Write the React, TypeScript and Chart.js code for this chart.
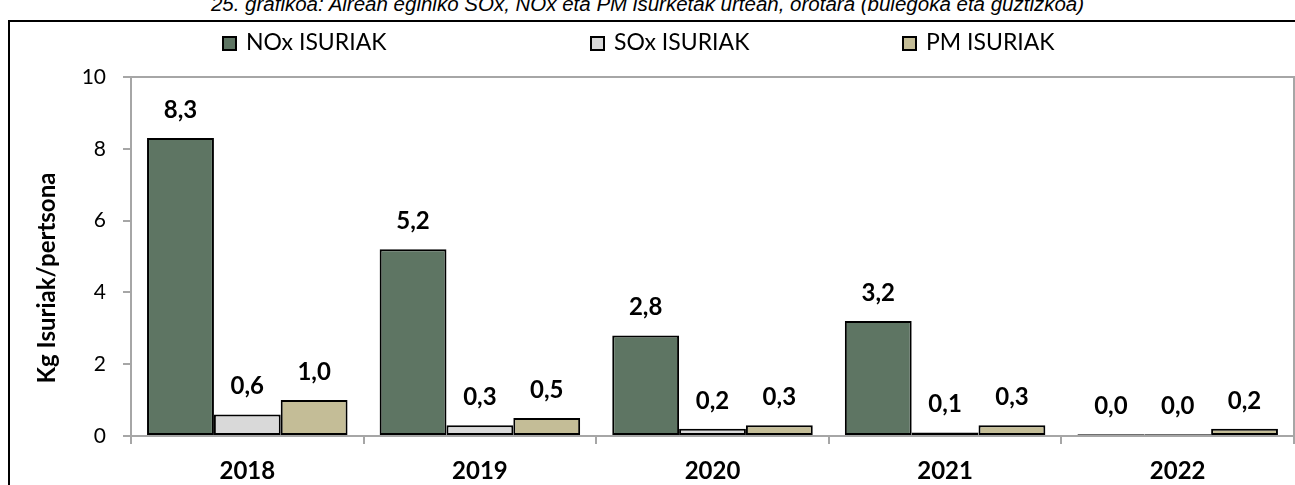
import React, { useEffect, useRef } from 'react';
import { Chart, registerables } from 'chart.js';

Chart.register(...registerables);

const chartTitle = '25. grafikoa: Airean eginiko SOx, NOx eta PM isurketak urtean, orotara (bulegoka eta guztizkoa)';
const categories = ['2018', '2019', '2020', '2021', '2022'];
const seriesLabels = ['NOx ISURIAK', 'SOx ISURIAK', 'PM ISURIAK'];
const noxValues = [8.3, 5.2, 2.8, 3.2, 0.049];
const soxValues = [0.6, 0.3, 0.2, 0.1, 0.049];
const pmValues = [1.0, 0.5, 0.3, 0.3, 0.2];
const seriesColors = ['#5E7563', '#D9D9D9', '#C4BD97'];
const yTickMin = 0;
const yTickMax = 10;
const yTickStep = 2;
const yAxisTitle = 'Kg Isuriak/pertsona';

const FONT = 'Lato, "Open Sans", sans-serif';

const fmt = (v: number) => v.toFixed(1).replace('.', ',');

const legendPlugin = {
  id: 'customLegend',
  afterDraw(chart: any) {
    const ctx = chart.ctx;
    const xs = [222, 590, 902];
    chart.data.datasets.forEach((ds: any, i: number) => {
      const x = xs[i];
      const y = 36;
      ctx.save();
      ctx.fillStyle = ds.backgroundColor;
      ctx.fillRect(x, y, 15, 15);
      ctx.lineWidth = 2;
      ctx.strokeStyle = '#000';
      ctx.strokeRect(x + 1, y + 1, 13, 13);
      ctx.font = `23px ${FONT}`;
      ctx.fillStyle = '#000';
      ctx.textBaseline = 'middle';
      ctx.textAlign = 'left';
      ctx.fillText(ds.label, x + 24, y + 7);
      ctx.restore();
    });
  },
};

const yTitlePlugin = {
  id: 'yTitle',
  afterDraw(chart: any) {
    const ctx = chart.ctx;
    ctx.save();
    ctx.translate(47, 278);
    ctx.rotate(-Math.PI / 2);
    ctx.font = `bold 24px ${FONT}`;
    ctx.fillStyle = '#000';
    ctx.textAlign = 'center';
    ctx.textBaseline = 'middle';
    ctx.fillText(yAxisTitle, 0, 0);
    ctx.restore();
  },
};

const plotBorderPlugin = {
  id: 'plotBorder',
  beforeDatasetsDraw(chart: any) {
    const { ctx, chartArea } = chart;
    ctx.save();
    ctx.strokeStyle = '#A6A6A6';
    ctx.lineWidth = 2;
    ctx.beginPath();
    ctx.moveTo(chartArea.left, chartArea.top);
    ctx.lineTo(chartArea.right, chartArea.top);
    ctx.lineTo(chartArea.right, chartArea.bottom);
    ctx.stroke();
    ctx.restore();
  },
};

const dataLabelPlugin = {
  id: 'dataLabels',
  afterDatasetsDraw(chart: any) {
    const ctx = chart.ctx;
    ctx.save();
    ctx.font = `bold 24px ${FONT}`;
    ctx.fillStyle = '#000';
    ctx.textAlign = 'center';
    ctx.textBaseline = 'middle';
    chart.data.datasets.forEach((ds: any, i: number) => {
      const meta = chart.getDatasetMeta(i);
      meta.data.forEach((bar: any, j: number) => {
        ctx.fillText(fmt(ds.data[j]), bar.x, bar.y - 28);
      });
    });
    ctx.restore();
  },
};

export default function App() {
  const canvasRef = useRef<HTMLCanvasElement | null>(null);

  useEffect(() => {
    if (!canvasRef.current) return;
    const values = [noxValues, soxValues, pmValues];
    const chart = new Chart(canvasRef.current, {
      type: 'bar',
      data: {
        labels: categories,
        datasets: seriesLabels.map((label, i) => ({
          label,
          data: values[i],
          backgroundColor: seriesColors[i],
          borderColor: '#000',
          borderWidth: 2,
          borderSkipped: false,
          categoryPercentage: 0.862,
          barPercentage: 1,
        })),
      },
      options: {
        responsive: false,
        animation: false,
        devicePixelRatio: 1,
        layout: { padding: { left: 30, top: 77, right: 1, bottom: 0 } },
        plugins: {
          legend: { display: false },
          tooltip: { enabled: false },
          title: { display: false },
        },
        scales: {
          x: {
            ticks: { font: { family: FONT, size: 24, weight: 'bold' }, color: '#000', padding: 13 },
            grid: { offset: true, drawOnChartArea: false, drawTicks: true, tickLength: 8, color: '#A6A6A6', lineWidth: 2 },
            border: { display: true, color: '#A6A6A6', width: 2 },
            afterFit(scale: any) {
              scale.height = 49;
            },
          },
          y: {
            min: yTickMin,
            max: yTickMax,
            ticks: { stepSize: yTickStep, font: { family: FONT, size: 21 }, color: '#000', padding: 17 },
            grid: { drawOnChartArea: false, drawTicks: true, tickLength: 8, color: '#A6A6A6', lineWidth: 2 },
            border: { display: true, color: '#A6A6A6', width: 2 },
            title: { display: false },
            afterFit(scale: any) {
              scale.width = 101;
            },
          },
        },
      },
      plugins: [plotBorderPlugin, dataLabelPlugin, legendPlugin, yTitlePlugin],
    } as any);
    return () => chart.destroy();
  }, []);

  return (
    <div style={{ position: 'absolute', left: 0, top: 0, width: 1295, height: 485, overflow: 'hidden', background: '#fff' }}>
      <div
        style={{
          position: 'absolute',
          left: 0,
          top: -6,
          width: 1295,
          textAlign: 'center',
          fontFamily: '"Liberation Sans", Arial, sans-serif',
          fontStyle: 'italic',
          fontSize: 20.5,
          lineHeight: '20px',
          color: '#000',
          whiteSpace: 'nowrap',
        }}
      >
        {chartTitle}
      </div>
      <div
        style={{
          position: 'absolute',
          left: 8,
          top: 20,
          width: 1400,
          height: 600,
          borderLeft: '2px solid #000',
          borderTop: '2px solid #000',
        }}
      />
      <canvas ref={canvasRef} width={1295} height={485} style={{ position: 'absolute', left: 0, top: 0 }} />
    </div>
  );
}
